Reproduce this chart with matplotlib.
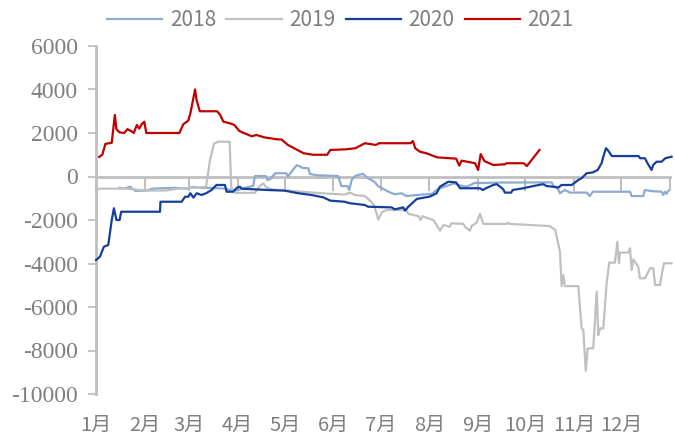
import matplotlib

matplotlib.use("Agg")
import matplotlib.pyplot as plt
from matplotlib.ticker import FixedLocator, NullFormatter

# ---------------------------------------------------------------- data (day of year, value)
days_2018 = [15, 18, 21.6, 25, 32, 36, 42, 50, 57.7, 62, 66, 72, 83, 87, 90, 93.6, 100, 101,
             108, 109, 111, 114, 121, 122, 127.6, 130, 131, 135, 136, 140, 154, 156, 160,
             161, 162.6, 164.4, 166.5, 169.7, 173, 177, 179.5, 186, 190, 194.4, 197.5, 204,
             213.5, 216.6, 218.7, 228, 230, 235.7, 241, 245, 254.8, 289.8, 291, 293, 295,
             298, 301.4, 312, 314, 316, 339.6, 340.6, 348, 349, 353, 359.7, 360.7, 361.8,
             362.8, 364]
vals_2018 = [-520, -560, -470, -660, -650, -560, -540, -520, -560, -480, -520, -520, -560,
             -680, -620, -540, -430, 20, 20, -170, -100, 150, 150, 0, 520, 450, 400, 380,
             120, 60, 20, -440, -440, -620, -160, 0, 70, 120, -80, -240, -450, -700, -820,
             -770, -900, -850, -800, -620, -540, -310, -390, -470, -290, -300, -280, -270,
             -470, -470, -770, -620, -740, -740, -900, -700, -700, -900, -900, -620, -670,
             -700, -850, -700, -800, -650]

days_2019 = [0, 2, 20, 28, 33, 45, 52, 70, 72.5, 75, 77.5, 85, 86, 88, 101, 104, 106.4, 108,
             111.6, 131, 143.5, 158, 161.5, 164.6, 171, 175, 177, 179.5, 181.7, 184.8, 197.5,
             198.6, 205, 206.4, 207.5, 211, 214.5, 216.6, 218.7, 221, 225, 226, 233.6, 235,
             237.8, 238.8, 242, 244.2, 246.3, 261, 262, 263, 276, 288.7, 289.8, 292, 295,
             296.1, 297.2, 298.2, 306.7, 308.8, 309.9, 311.4, 312.7, 316.2, 318.4, 319.4,
             320.5, 322.6, 324.7, 326.4, 330, 331.5, 332.6, 333.2, 338.5, 339.6, 340.6,
             341.7, 344.8, 345.9, 349.1, 352.3, 354.4, 355.5, 358.6, 359.7, 361.2, 366]
vals_2019 = [-650, -560, -560, -620, -650, -640, -560, -480, 760, 1500, 1600, 1600, -500,
             -750, -750, -450, -310, -480, -590, -700, -770, -830, -740, -850, -900, -1160,
             -1350, -1980, -1650, -1540, -1540, -1720, -1820, -2000, -1820, -1920, -2000,
             -2230, -2490, -2230, -2310, -2150, -2180, -2340, -2490, -2280, -2120, -1720,
             -2180, -2180, -2120, -2180, -2230, -2280, -2350, -2450, -3450, -5040, -4530,
             -5040, -5040, -6980, -7060, -8930, -7900, -7900, -5300, -7290, -6980, -6980,
             -4910, -3960, -3960, -3000, -3990, -3500, -3500, -3300, -4300, -3810, -4150,
             -4680, -4680, -4220, -4220, -4990, -4990, -4530, -3990, -3990]

days_2020 = [0, 2.5, 5, 7.8, 10, 11.4, 13, 15, 16, 40.7, 41, 54.5, 56.6, 58.7, 60, 62, 64, 67,
             70, 73.5, 76.6, 82, 83, 87, 90, 91.6, 92.5, 109, 120, 128.6, 137, 144.5, 149,
             158, 161.5, 171, 173, 188, 190, 195.4, 196.5, 198.6, 204, 212, 216.6, 218.7,
             224, 229, 231.5, 244, 246, 248, 252.6, 254.7, 257, 259, 260, 264, 265, 271.7,
             278, 284.4, 286.5, 290.8, 294, 296, 302.5, 306.7, 308.8, 312, 316, 319, 321.5,
             322.6, 324.3, 325.7, 328, 345, 346, 349, 351, 353.3, 354.3, 356.5, 359.7, 362,
             366]
vals_2020 = [-3840, -3690, -3230, -3150, -2000, -1460, -2000, -2000, -1620, -1620, -1160,
             -1160, -930, -930, -770, -970, -770, -850, -770, -620, -390, -390, -700, -700,
             -500, -470, -560, -620, -650, -770, -850, -960, -1110, -1160, -1230, -1310,
             -1390, -1420, -1510, -1420, -1570, -1390, -1030, -930, -770, -470, -240, -270,
             -540, -540, -620, -540, -390, -350, -470, -590, -740, -740, -620, -540, -440,
             -350, -440, -470, -510, -390, -390, -160, -80, 150, 190, 300, 610, 910, 1300,
             1190, 940, 940, 840, 840, 570, 300, 530, 680, 680, 840, 910]

days_2021 = [2, 4, 6, 10, 12, 13, 15, 18, 20, 23, 24, 26, 27.5, 29, 30.7, 32, 53, 55.5, 58.7,
             60, 63, 64, 66, 77, 79, 81, 85, 88, 91, 94, 99, 102, 107, 115, 118, 122, 126,
             132, 138, 147, 149, 159, 165, 171, 178, 180, 200, 201.5, 203, 206, 210, 217,
             229, 231, 232.5, 241, 243, 244.6, 247, 252.6, 260, 261, 272, 274, 282]
vals_2021 = [900, 1000, 1500, 1550, 2830, 2170, 2030, 2000, 2180, 2060, 2000, 2370, 2200,
             2400, 2520, 2000, 2000, 2400, 2570, 2900, 4000, 3500, 3000, 3000, 2830, 2520,
             2450, 2370, 2100, 2000, 1850, 1910, 1800, 1710, 1700, 1450, 1300, 1070, 1000,
             1000, 1220, 1250, 1300, 1530, 1450, 1530, 1530, 1630, 1300, 1140, 1070, 880,
             820, 500, 730, 610, 300, 1030, 710, 530, 560, 610, 610, 480, 1220]

month_starts = [0, 31, 59, 90, 120, 151, 181, 212, 243, 273, 304, 334]
month_labels = ["1月", "2月", "3月", "4月", "5月", "6月",
                "7月", "8月", "9月", "10月", "11月", "12月"]
y_ticks = [-10000, -8000, -6000, -4000, -2000, 0, 2000, 4000, 6000]

GREY_AXIS = "#bfbfbf"
GREY_TEXT = "#7f7f7f"

fig = plt.figure(figsize=(6.75, 4.37), dpi=100)
ax = fig.add_axes([96 / 675, 1 - 394 / 437, 574 / 675, 348 / 437])

series = [("2018", days_2018, vals_2018, "#8eaad2"),
          ("2019", days_2019, vals_2019, "#c0c0c0"),
          ("2020", days_2020, vals_2020, "#15409a"),
          ("2021", days_2021, vals_2021, "#c00000")]
for name, d, v, c in series:
    ax.plot(d, v, color=c, lw=1.6, label=name, clip_on=False, zorder=3)

ax.set_xlim(0, 365)
ax.set_ylim(-10000, 6000)

# y axis: grey spine, serif labels
ax.set_yticks(y_ticks)
ax.set_yticklabels([str(t) for t in y_ticks], family="Liberation Serif", fontsize=17,
                   color=GREY_TEXT)
ax.tick_params(axis="y", direction="out", length=6, width=1.3, color=GREY_AXIS, pad=7)

# x axis sits at zero, month labels go at the bottom
ax.spines["bottom"].set_position(("data", 0))
ax.spines["bottom"].set_color(GREY_AXIS)
ax.spines["bottom"].set_linewidth(2)
ax.spines["bottom"].set_zorder(2)
ax.spines["left"].set_color(GREY_AXIS)
ax.spines["left"].set_linewidth(2)
ax.spines["top"].set_visible(False)
ax.spines["right"].set_visible(False)
ax.xaxis.set_major_locator(FixedLocator(month_starts + [365]))
ax.xaxis.set_major_formatter(NullFormatter())
ax.tick_params(axis="x", direction="out", length=10, width=1.5, color=GREY_AXIS)
for d, lab in zip(month_starts, month_labels):
    ax.text(d, -0.09, lab, transform=ax.get_xaxis_transform(), ha="center", va="center",
            family=["Noto Sans CJK SC", "DejaVu Sans"], fontsize=14.5, color=GREY_TEXT)

leg = fig.legend(loc="center", bbox_to_anchor=(0.504, 0.954), ncol=4, frameon=False,
                 prop={"family": "Noto Sans CJK SC", "size": 15}, handlelength=2.65,
                 handletextpad=0.35, columnspacing=0.5)
for t in leg.get_texts():
    t.set_color(GREY_TEXT)

fig.savefig("out.png", dpi=100)
